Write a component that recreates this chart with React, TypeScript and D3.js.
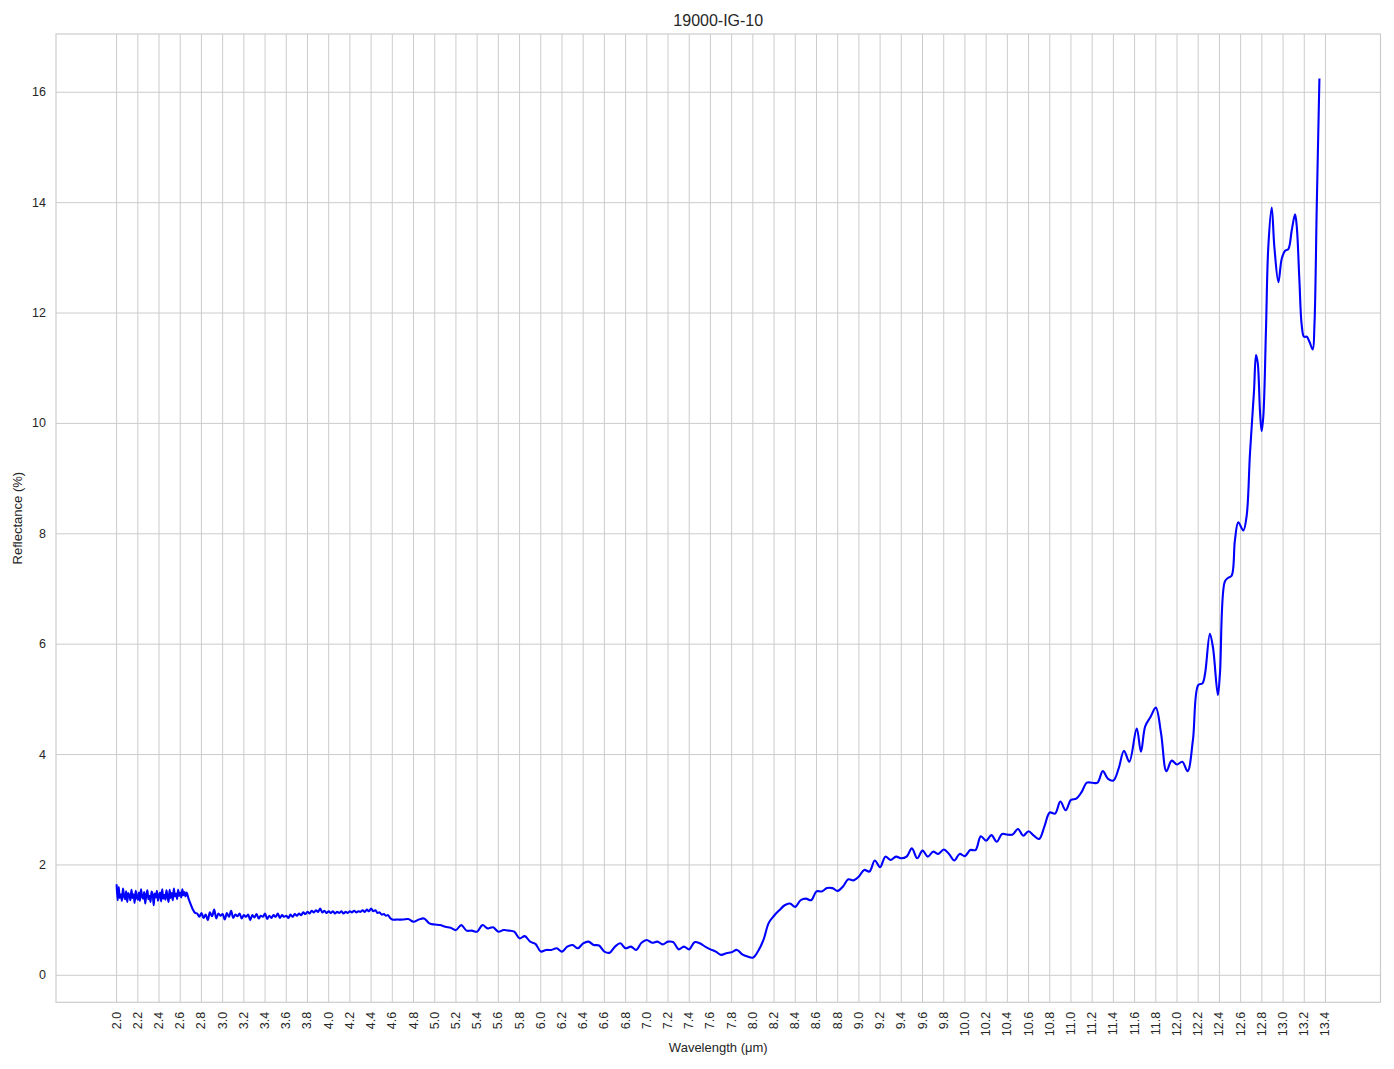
import React from "react";
import * as d3 from "d3";

const title = "19000-IG-10";
const xLabel = "Wavelength (μm)";
const yLabel = "Reflectance (%)";

const xTicks = d3.range(0, 58).map((i) => +(2.0 + i * 0.2).toFixed(1));
const yTicks = [0, 2, 4, 6, 8, 10, 12, 14, 16];

// Noisy start segment: 2.00 .. 2.66 step 0.01
const seg1Start = 2.0;
const seg1Step = 0.01;
const seg1Values = [
  1.65, 1.36, 1.60, 1.40, 1.47, 1.35, 1.57, 1.44, 1.38, 1.52,
  1.33, 1.49, 1.45, 1.36, 1.55, 1.40, 1.47, 1.31, 1.53, 1.42,
  1.37, 1.50, 1.35, 1.56, 1.43, 1.39, 1.51, 1.30, 1.46, 1.54,
  1.38, 1.44, 1.33, 1.52, 1.47, 1.27, 1.48, 1.41, 1.53, 1.35,
  1.45, 1.50, 1.34, 1.56, 1.39, 1.46, 1.37, 1.54, 1.42, 1.33,
  1.55, 1.40, 1.49, 1.36, 1.57, 1.43, 1.48, 1.38, 1.55, 1.44,
  1.50, 1.41, 1.56, 1.45, 1.51, 1.43, 1.50,
];

// Step down
const dropWavelengths = [2.68, 2.7, 2.72, 2.74];
const dropValues = [1.38, 1.28, 1.19, 1.13];

// Second noisy segment: 2.76 .. 4.60 step 0.02
const seg2Start = 2.76;
const seg2Step = 0.02;
const seg2Values = [
  1.12, 1.06, 1.13, 1.04, 1.10, 1.00, 1.14, 1.07, 1.19, 1.03,
  1.12, 1.08, 1.11, 1.01, 1.13, 1.06, 1.17, 1.04, 1.10, 1.07,
  1.12, 1.03, 1.09, 1.06, 1.10, 1.00, 1.09, 1.05, 1.11, 1.03,
  1.08, 1.06, 1.12, 1.02, 1.08, 1.04, 1.09, 1.06, 1.12, 1.04,
  1.09, 1.06, 1.08, 1.04, 1.10, 1.06, 1.11, 1.08, 1.12, 1.09,
  1.14, 1.11, 1.15, 1.12, 1.17, 1.14, 1.18, 1.15, 1.21, 1.14,
  1.17, 1.13, 1.16, 1.13, 1.16, 1.12, 1.15, 1.13, 1.16, 1.12,
  1.15, 1.13, 1.16, 1.14, 1.17, 1.14, 1.16, 1.15, 1.18, 1.15,
  1.19, 1.16, 1.21, 1.16, 1.18, 1.13, 1.14, 1.10, 1.11, 1.08,
  1.09, 1.04, 1.01,
];

// Smoother remainder
const seg3Wavelengths = [
  4.65, 4.7, 4.75, 4.8, 4.85, 4.9, 4.95, 5.0, 5.05, 5.1, 5.15, 5.2, 5.25, 5.3, 5.35, 5.4,
  5.45, 5.5, 5.55, 5.6, 5.65, 5.7, 5.75, 5.8, 5.85, 5.9, 5.95, 6.0, 6.05, 6.1, 6.15, 6.2,
  6.25, 6.3, 6.35, 6.4, 6.45, 6.5, 6.55, 6.6, 6.65, 6.7, 6.75, 6.8, 6.85, 6.9, 6.95, 7.0,
  7.05, 7.1, 7.15, 7.2, 7.25, 7.3, 7.35, 7.4, 7.45, 7.5, 7.55, 7.6, 7.65, 7.7, 7.75, 7.8,
  7.85, 7.9, 7.95, 8.0, 8.05, 8.1, 8.15, 8.2, 8.25, 8.3, 8.35, 8.4, 8.45, 8.5, 8.55, 8.6,
  8.65, 8.7, 8.75, 8.8, 8.85, 8.9, 8.95, 9.0, 9.05, 9.1, 9.15, 9.2, 9.25, 9.3, 9.35, 9.4,
  9.45, 9.5, 9.55, 9.6, 9.65, 9.7, 9.75, 9.8, 9.85, 9.9, 9.95, 10.0, 10.05, 10.1, 10.15,
  10.2, 10.25, 10.3, 10.35, 10.4, 10.45, 10.5, 10.55, 10.6, 10.65, 10.7, 10.75, 10.8,
  10.85, 10.9, 10.95, 11.0, 11.05, 11.1, 11.15, 11.2, 11.25, 11.3, 11.35, 11.4, 11.45,
  11.5, 11.55, 11.62, 11.66, 11.7, 11.75, 11.8, 11.85, 11.9, 11.95, 12.0, 12.05, 12.1,
  12.15, 12.2, 12.24, 12.265, 12.31, 12.34, 12.385, 12.405, 12.45, 12.48, 12.515, 12.546,
  12.578, 12.625, 12.657, 12.688, 12.726, 12.745, 12.761, 12.783, 12.798, 12.814, 12.839,
  12.861, 12.893, 12.918, 12.956, 12.987, 13.019, 13.05, 13.082, 13.113, 13.129, 13.154,
  13.176, 13.198, 13.224, 13.249, 13.28, 13.296, 13.318, 13.343,
];
const seg3Values = [
  1.01, 1.01, 1.02, 0.97, 1.01, 1.03, 0.94, 0.92, 0.91, 0.88, 0.86, 0.82, 0.91, 0.81, 0.81, 0.79,
  0.91, 0.85, 0.87, 0.79, 0.82, 0.81, 0.79, 0.67, 0.71, 0.61, 0.57, 0.43, 0.46, 0.46, 0.49, 0.43,
  0.52, 0.55, 0.49, 0.58, 0.61, 0.55, 0.54, 0.43, 0.41, 0.52, 0.58, 0.49, 0.52, 0.46, 0.59, 0.64,
  0.59, 0.61, 0.56, 0.61, 0.60, 0.47, 0.52, 0.47, 0.60, 0.58, 0.52, 0.47, 0.43, 0.37, 0.40, 0.42,
  0.46, 0.38, 0.34, 0.32, 0.44, 0.64, 0.95, 1.08, 1.18, 1.27, 1.30, 1.24, 1.36, 1.39, 1.36, 1.52,
  1.52, 1.58, 1.58, 1.53, 1.61, 1.74, 1.72, 1.79, 1.91, 1.88, 2.08, 1.96, 2.15, 2.09, 2.15, 2.12,
  2.15, 2.30, 2.12, 2.26, 2.15, 2.24, 2.20, 2.28, 2.20, 2.08, 2.20, 2.16, 2.27, 2.27, 2.52,
  2.44, 2.54, 2.42, 2.56, 2.55, 2.55, 2.65, 2.53, 2.61, 2.53, 2.47, 2.70, 2.95,
  2.93, 3.15, 2.99, 3.18, 3.20, 3.32, 3.49, 3.49, 3.49, 3.70, 3.56, 3.53, 3.75,
  4.07, 3.87, 4.47, 4.05, 4.51, 4.68, 4.85, 4.38, 3.70, 3.89, 3.82, 3.87, 3.70,
  4.26, 5.26, 5.29, 5.47, 6.19, 5.93, 5.08, 5.47, 7.13, 7.2, 7.24, 7.88,
  8.21, 8.06, 8.33, 9.45, 10.58, 11.24, 11.1, 10.2, 9.86, 10.13, 11.7,
  13.2, 13.91, 13.2, 12.56, 12.98, 13.13, 13.16, 13.5, 13.79, 13.58, 12.6,
  11.78, 11.57, 11.57, 11.48, 11.34, 11.78, 13.95, 16.25,
];

type Pt = { x: number; y: number };

const points: Pt[] = [
  ...seg1Values.map((v, i) => ({ x: seg1Start + i * seg1Step, y: v })),
  ...dropValues.map((v, i) => ({ x: dropWavelengths[i], y: v })),
  ...seg2Values.map((v, i) => ({ x: seg2Start + i * seg2Step, y: v })),
  ...seg3Values.map((v, i) => ({ x: seg3Wavelengths[i], y: v })),
];

const W = 1394;
const H = 1069;
const left = 56;
const right = 1380.5;
const top = 34;
const bottom = 1002.3;

export default function App() {
  const x = d3.scaleLinear().domain([1.4285, 13.919]).range([left, right]);
  const y = d3.scaleLinear().domain([-0.489, 17.056]).range([bottom, top]);
  const line = d3
    .line<Pt>()
    .x((d) => x(d.x))
    .y((d) => y(d.y))
    .curve(d3.curveCatmullRom.alpha(0.5));

  const font = "'Liberation Sans', Arial, 'DejaVu Sans', sans-serif";
  const textColor = "#262626";
  const grid = "#cccccc";

  return (
    <svg
      width={W}
      height={H}
      style={{ position: "absolute", left: 0, top: 0, background: "#fff" }}
      fontFamily={font}
    >
      <rect x={0} y={0} width={W} height={H} fill="#fff" />
      {xTicks.map((t) => (
        <line key={"gx" + t} x1={x(t)} x2={x(t)} y1={top} y2={bottom} stroke={grid} strokeWidth={1} />
      ))}
      {yTicks.map((t) => (
        <line key={"gy" + t} x1={left} x2={right} y1={y(t)} y2={y(t)} stroke={grid} strokeWidth={1} />
      ))}
      <rect x={left} y={top} width={right - left} height={bottom - top} fill="none" stroke={grid} strokeWidth={1.2} />
      <path d={line(points) || ""} fill="none" stroke="#0000ff" strokeWidth={2.1} strokeLinejoin="round" />
      {yTicks.map((t) => (
        <text key={"ty" + t} x={46} y={y(t)} textAnchor="end" dominantBaseline="central" fontSize={12.5} fill={textColor}>
          {t}
        </text>
      ))}
      {xTicks.map((t) => (
        <text
          key={"tx" + t}
          transform={`translate(${x(t)},${bottom + 9.5}) rotate(-90)`}
          textAnchor="end"
          dominantBaseline="central"
          fontSize={12.5}
          fill={textColor}
        >
          {t.toFixed(1)}
        </text>
      ))}
      <text x={(left + right) / 2} y={1052} textAnchor="middle" fontSize={13} fill={textColor}>
        {xLabel}
      </text>
      <text
        transform={`translate(22,${(top + bottom) / 2}) rotate(-90)`}
        textAnchor="middle"
        fontSize={13}
        fill={textColor}
      >
        {yLabel}
      </text>
      <text x={(left + right) / 2} y={26} textAnchor="middle" fontSize={16} fill={textColor}>
        {title}
      </text>
    </svg>
  );
}
